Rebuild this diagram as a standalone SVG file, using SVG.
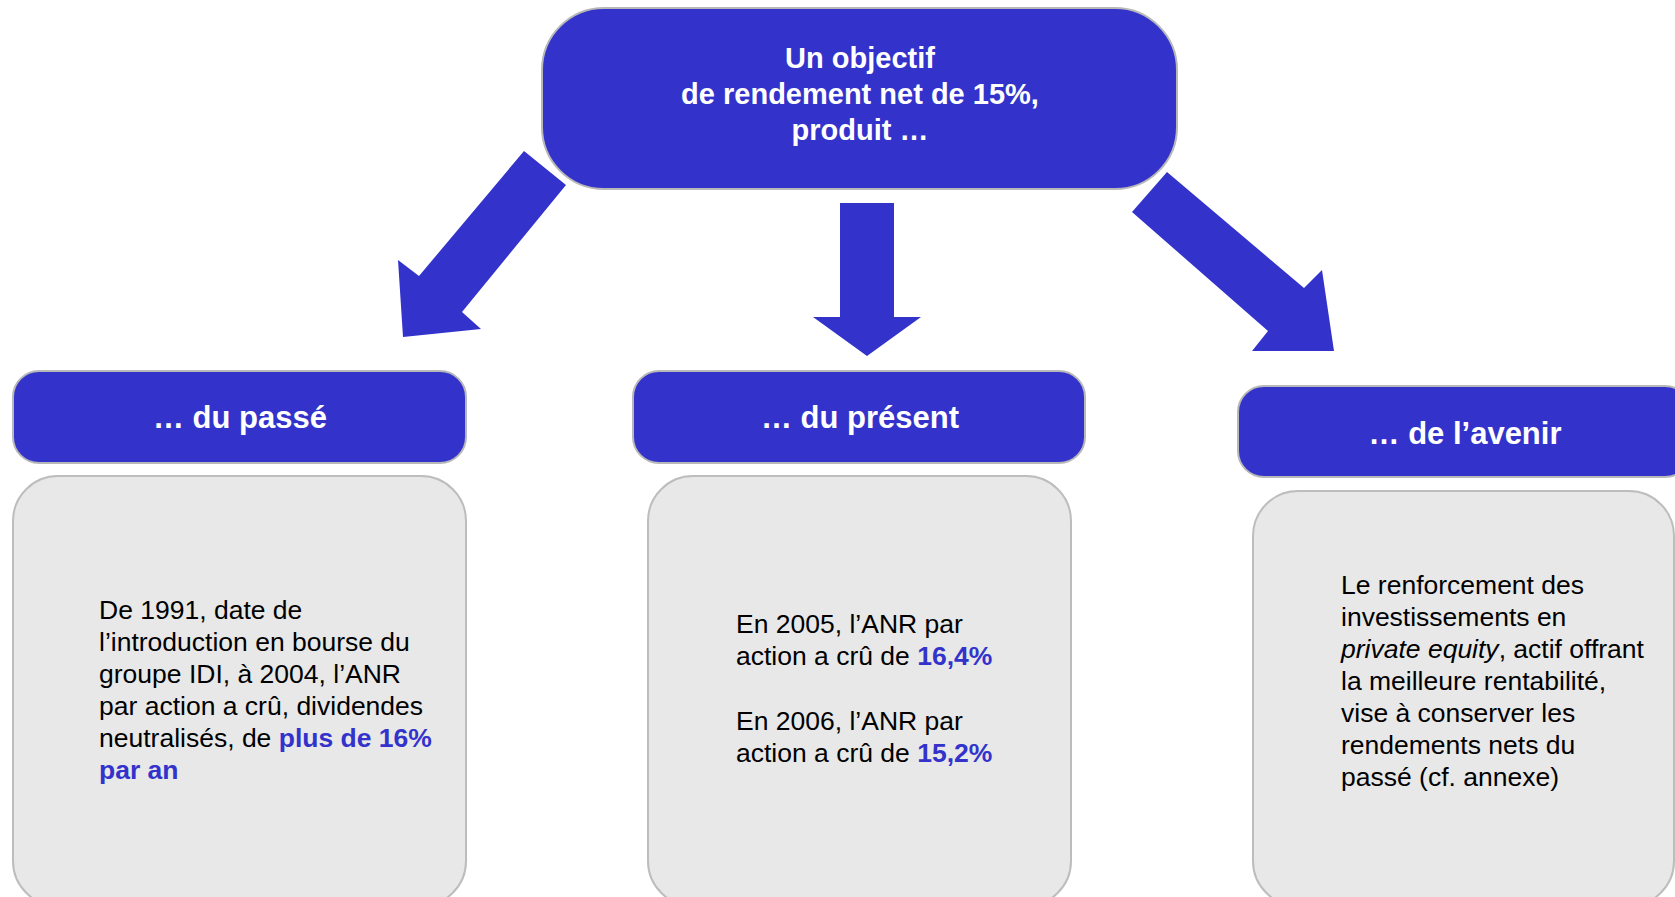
<svg xmlns="http://www.w3.org/2000/svg" width="1675" height="897" viewBox="0 0 1675 897">
<style>
.blue{fill:#3333CC;stroke:#B8B8B8;stroke-width:2}
.grey{fill:#E8E8E8;stroke:#BDBDBD;stroke-width:2}
.arrow{fill:#3333CC;stroke:none}
.ht{font-family:"Liberation Sans",Arial,sans-serif;font-weight:bold;fill:#FFFFFF;text-anchor:middle}
.bt{font-family:"Liberation Sans",Arial,sans-serif;font-size:26.5px;fill:#000000}
.hl{font-weight:bold;fill:#3333CC}
</style>
<g id="connectors">
<polygon class="arrow" points="524,151 566,185 462,312 481,329 403,337 398,260 419,276"/>
<polygon class="arrow" points="840,203 894,203 894,317 921,317 867,356 813,317 840,317"/>
<polygon class="arrow" points="1167,172 1304,288 1322,270 1334,351 1252,351 1268,331 1132,212"/>
</g>
<g id="top">
<rect class="blue" x="542" y="8" width="635" height="181" rx="62" ry="62"/>
<text class="ht" font-size="29" x="860" y="68">Un objectif</text>
<text class="ht" font-size="29" x="860" y="104">de rendement net de 15%,</text>
<text class="ht" font-size="29" x="860" y="140">produit …</text>
</g>
<g id="h-passe">
<rect class="blue" x="13" y="371" width="453" height="92" rx="26" ry="26"/>
<text class="ht" font-size="31" x="240" y="428">… du passé</text>
</g>
<g id="h-present">
<rect class="blue" x="633" y="371" width="452" height="92" rx="26" ry="26"/>
<text class="ht" font-size="31" x="860" y="428">… du présent</text>
</g>
<g id="h-avenir">
<rect class="blue" x="1238" y="386" width="453" height="91" rx="26" ry="26"/>
<text class="ht" font-size="31" x="1465" y="444">… de l’avenir</text>
</g>
<g id="b-passe">
<rect class="grey" x="13" y="476" width="453" height="430" rx="45" ry="45"/>
<text class="bt" x="99" y="619">De 1991, date de</text>
<text class="bt" x="99" y="651">l’introduction en bourse du</text>
<text class="bt" x="99" y="683">groupe IDI, à 2004, l’ANR</text>
<text class="bt" x="99" y="715">par action a crû, dividendes</text>
<text class="bt" x="99" y="747">neutralisés, de <tspan class="hl">plus de 16%</tspan></text>
<text class="bt" x="99" y="779"><tspan class="hl">par an</tspan></text>
</g>
<g id="b-present">
<rect class="grey" x="648" y="476" width="423" height="430" rx="45" ry="45"/>
<text class="bt" x="736" y="633">En 2005, l’ANR par</text>
<text class="bt" x="736" y="665">action a crû de <tspan class="hl">16,4%</tspan></text>
<text class="bt" x="736" y="730">En 2006, l’ANR par</text>
<text class="bt" x="736" y="762">action a crû de <tspan class="hl">15,2%</tspan></text>
</g>
<g id="b-avenir">
<rect class="grey" x="1253" y="491" width="421" height="415" rx="45" ry="45"/>
<text class="bt" x="1341" y="594">Le renforcement des</text>
<text class="bt" x="1341" y="626">investissements en</text>
<text class="bt" x="1341" y="658"><tspan font-style="italic">private equity</tspan>, actif offrant</text>
<text class="bt" x="1341" y="690">la meilleure rentabilité,</text>
<text class="bt" x="1341" y="722">vise à conserver les</text>
<text class="bt" x="1341" y="754">rendements nets du</text>
<text class="bt" x="1341" y="786">passé (cf. annexe)</text>
</g>
</svg>
